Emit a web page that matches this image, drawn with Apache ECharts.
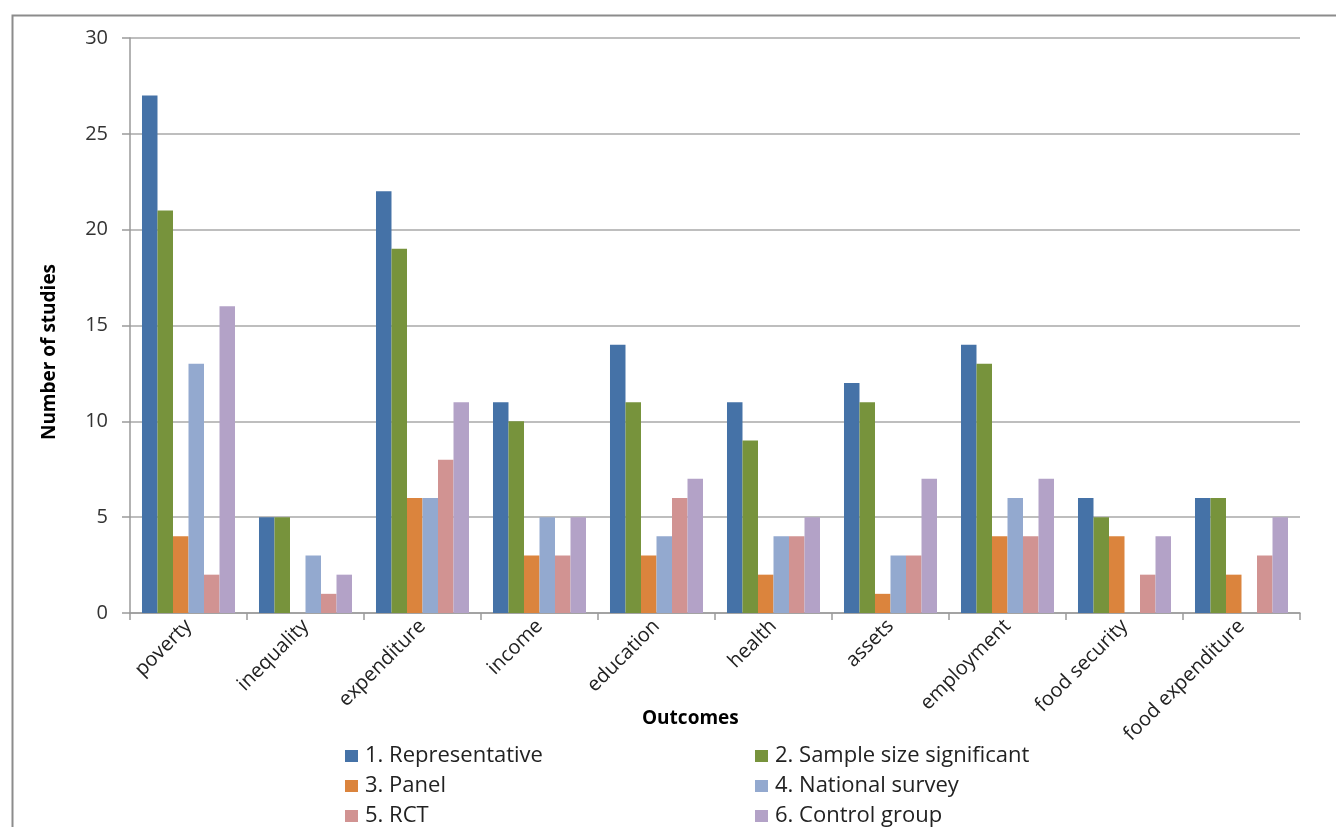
<!DOCTYPE html>
<html>
<head>
<meta charset="utf-8">
<script src="https://cdn.jsdelivr.net/npm/echarts@6/dist/echarts.min.js"></script>
<style>
  html, body { margin: 0; padding: 0; background: #fff; }
  #chart { width: 1336px; height: 827px; }
</style>
</head>
<body>
<div id="chart"></div>
<script>
// Outcome categories on the x axis
const outcomes = ['poverty', 'inequality', 'expenditure', 'income', 'education',
  'health', 'assets', 'employment', 'food security', 'food expenditure'];

// Number of studies per outcome, one array per quality criterion
const representative = [27, 5, 22, 11, 14, 11, 12, 14, 6, 6];
const sampleSize     = [21, 5, 19, 10, 11, 9, 11, 13, 5, 6];
const panel          = [4, 0, 6, 3, 3, 2, 1, 4, 4, 2];
const nationalSurvey = [13, 3, 6, 5, 4, 4, 3, 6, 0, 0];
const rct            = [2, 1, 8, 3, 6, 4, 3, 4, 2, 3];
const controlGroup   = [16, 2, 11, 5, 7, 5, 7, 7, 4, 5];

const seriesNames = ['1. Representative', '2. Sample size significant', '3. Panel',
  '4. National survey', '5. RCT', '6. Control group'];
const seriesData = [representative, sampleSize, panel, nationalSurvey, rct, controlGroup];
const colors = ['#4572A7', '#77933C', '#DB843D', '#93A9CF', '#D19392', '#B3A2C7'];

const FONT = '"Open Sans", Lato, sans-serif';

const chart = echarts.init(document.getElementById('chart'), null, { renderer: 'canvas' });

// Legend laid out as two columns of three rows, one entry per legend box
const legendCols = [345, 755];
const legendRows = [744, 774, 804];
const legends = seriesNames.map((name, i) => ({
  left: legendCols[i % 2],
  top: legendRows[Math.floor(i / 2)],
  data: [name],
  icon: 'rect',
  itemWidth: 13,
  itemHeight: 12,
  selectedMode: false,
  padding: 0,
  textStyle: { fontFamily: FONT, fontSize: 22, color: '#222', lineHeight: 24, padding: [0, 0, 0, 2] }
}));

chart.setOption({
  animation: false,
  color: colors,
  grid: { left: 130, right: 36, top: 38, bottom: 214, containLabel: false },
  legend: legends,
  xAxis: {
    type: 'category',
    data: outcomes,
    boundaryGap: true,
    axisLine: { lineStyle: { color: '#9a9a9a', width: 1.5 } },
    axisTick: { show: true, length: 7, alignWithLabel: false, lineStyle: { color: '#9a9a9a', width: 1.5 } },
    axisLabel: {
      interval: 0,
      rotate: 45,
      margin: 10,
      fontFamily: FONT,
      fontSize: 20,
      color: '#222'
    },
    splitLine: { show: false }
  },
  yAxis: {
    type: 'value',
    min: 0,
    max: 30,
    interval: 5,
    axisLine: { show: true, lineStyle: { color: '#9a9a9a', width: 1.5 } },
    axisTick: { show: true, length: 8, lineStyle: { color: '#9a9a9a', width: 1.5 } },
    axisLabel: { margin: 22, fontFamily: FONT, fontSize: 20, color: '#333' },
    splitLine: { show: true, lineStyle: { color: '#a8a8a8', width: 1.5 } }
  },
  series: seriesNames.map((name, i) => ({
    name: name,
    type: 'bar',
    data: seriesData[i],
    barGap: '0%',
    barCategoryGap: '20.5%',
    itemStyle: { color: colors[i] }
  })),
  graphic: [
    {
      type: 'rect',
      left: 10, top: 13,
      shape: { width: 1400, height: 900 },
      style: { fill: 'none', stroke: '#8c8c8c', lineWidth: 2 },
      silent: true
    },
    {
      type: 'text',
      left: 642, top: 709,
      style: { text: 'Outcomes', font: 'bold 19px ' + FONT, fill: '#000' }
    },
    {
      type: 'text',
      x: 50, y: 352,
      rotation: Math.PI / 2,
      style: { text: 'Number of studies', font: 'bold 19px ' + FONT, fill: '#000', align: 'center', verticalAlign: 'middle' }
    }
  ]
});
</script>
</body>
</html>
